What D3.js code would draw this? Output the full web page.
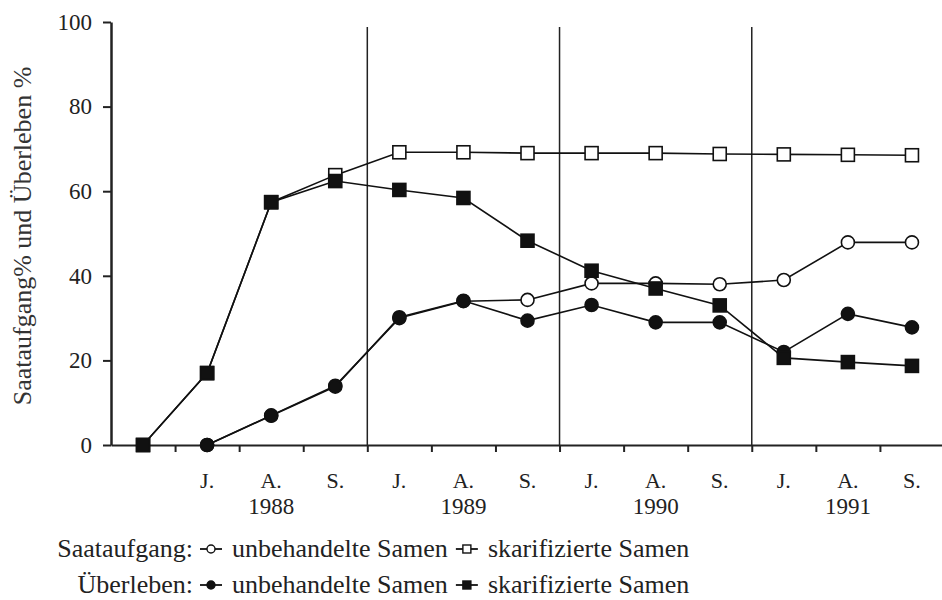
<!DOCTYPE html>
<html>
<head>
<meta charset="utf-8">
<script src="https://cdn.jsdelivr.net/npm/d3@7"></script>
</head>
<body style="margin:0; background:#fff">
<div id="canvas"></div>
<script>
"use strict"

/* Data: categories along the x axis (first slot is the start, no label) */
let monthLabels = ["", "J.", "A.", "S.", "J.", "A.", "S.", "J.", "A.", "S.", "J.", "A.", "S."];
let yearLabels = ["1988", "1989", "1990", "1991"];
let yearSlots = [2, 5, 8, 11];
let yearBreaks = [4, 7, 10];
let yTicks = [0, 20, 40, 60, 80, 100];

// Saataufgang (emergence); unbehandelte starts at slot 1
let emergeUntreated = [null, 0, 7, 14, 30, 34, 34.3, 38.2, 38.2, 38, 39, 47.9, 47.9];
let emergeScarified = [0, 17, 57.4, 63.8, 69.2, 69.2, 69, 69, 69, 68.8, 68.7, 68.6, 68.5];
// Überleben (survival)
let surviveUntreated = [null, 0, 6.9, 13.8, 30.2, 34.1, 29.4, 33.1, 29, 29, 22, 31, 27.8];
let surviveScarified = [0, 17, 57.4, 62.4, 60.3, 58.4, 48.3, 41.2, 37, 33, 20.6, 19.6, 18.7];

/* Drawing dimensions */
let svgWidth = 942;
let svgHeight = 600;
let plotLeft = 111, plotRight = 944, plotTop = 22, plotBottom = 445;
let serif = "'Liberation Serif', 'Times New Roman', serif";
let ink = "#222";

let svg = d3.select("#canvas")
    .append("svg")
    .attr("width", svgWidth)
    .attr("height", svgHeight);

/* Scales */
let xBand = d3.scaleBand()
    .domain(d3.range(monthLabels.length))
    .range([plotLeft, plotRight]);

let xEdge = d3.scaleLinear()
    .domain([0, monthLabels.length])
    .range([plotLeft, plotRight]);

let yScale = d3.scaleLinear()
    .domain([0, 100])
    .range([plotBottom, plotTop]);

function cx(i) {
    return xBand(i) + xBand.bandwidth() / 2;
}

/* Year separator lines */
svg.selectAll("line.sep")
    .data(yearBreaks)
    .join("line")
    .attr("class", "sep")
    .attr("x1", d => xEdge(d))
    .attr("x2", d => xEdge(d))
    .attr("y1", 27)
    .attr("y2", plotBottom)
    .attr("stroke", ink)
    .attr("stroke-width", 1.5);

/* X axis: ticks on slot boundaries */
let xAxis = svg.append("g")
    .attr("transform", "translate(0," + plotBottom + ")")
    .call(d3.axisBottom(xEdge)
        .tickValues(d3.range(1, monthLabels.length))
        .tickFormat("")
        .tickSizeInner(7)
        .tickSizeOuter(0));
xAxis.select(".domain").attr("stroke", ink).attr("stroke-width", 2.2);
xAxis.selectAll(".tick line").attr("stroke", ink).attr("stroke-width", 2);

/* Y axis */
let yAxis = svg.append("g")
    .attr("transform", "translate(" + plotLeft + ",0)")
    .call(d3.axisLeft(yScale)
        .tickValues(yTicks)
        .tickSizeInner(8)
        .tickSizeOuter(0)
        .tickPadding(11));
yAxis.select(".domain").attr("stroke", ink).attr("stroke-width", 2.5);
yAxis.selectAll(".tick line").attr("stroke", ink).attr("stroke-width", 2);
yAxis.selectAll(".tick text")
    .style("font-family", serif)
    .style("font-size", "23px")
    .attr("fill", ink);

/* Month and year labels */
svg.selectAll("text.month")
    .data(monthLabels)
    .join("text")
    .attr("class", "month")
    .attr("x", (d, i) => cx(i))
    .attr("y", 488)
    .attr("text-anchor", "middle")
    .style("font-family", serif)
    .style("font-size", "22px")
    .attr("fill", ink)
    .text(d => d);

svg.selectAll("text.year")
    .data(yearLabels)
    .join("text")
    .attr("class", "year")
    .attr("x", (d, i) => cx(yearSlots[i]))
    .attr("y", 514)
    .attr("text-anchor", "middle")
    .style("font-family", serif)
    .style("font-size", "23px")
    .attr("fill", ink)
    .text(d => d);

/* Y axis title */
svg.append("text")
    .attr("transform", "translate(31,236) rotate(-90)")
    .attr("text-anchor", "middle")
    .style("font-family", serif)
    .style("font-size", "26px")
    .attr("fill", "#333")
    .text("Saataufgang% und Überleben %");

/* Series, drawn open first so the filled markers sit on top */
let series = [
    { values: emergeScarified, shape: "square", filled: false },
    { values: emergeUntreated, shape: "circle", filled: false },
    { values: surviveUntreated, shape: "circle", filled: true },
    { values: surviveScarified, shape: "square", filled: true }
];

let line = d3.line()
    .x(d => cx(d.i))
    .y(d => yScale(d.v));

series.forEach(function (s) {
    let pts = s.values.map((v, i) => ({ i: i, v: v })).filter(d => d.v !== null);
    let g = svg.append("g");
    g.append("path")
        .datum(pts)
        .attr("d", line)
        .attr("fill", "none")
        .attr("stroke", "#111")
        .attr("stroke-width", 1.6);
    if (s.shape === "circle") {
        g.selectAll("circle")
            .data(pts)
            .join("circle")
            .attr("cx", d => cx(d.i))
            .attr("cy", d => yScale(d.v))
            .attr("r", 6.5)
            .attr("fill", s.filled ? "#111" : "#fff")
            .attr("stroke", "#111")
            .attr("stroke-width", 1.6);
    } else {
        g.selectAll("rect")
            .data(pts)
            .join("rect")
            .attr("x", d => cx(d.i) - 6.5)
            .attr("y", d => yScale(d.v) - 6.5)
            .attr("width", 13)
            .attr("height", 13)
            .attr("fill", s.filled ? "#111" : "#fff")
            .attr("stroke", "#111")
            .attr("stroke-width", 1.6);
    }
});

/* Legend */
let legendRows = [
    { title: "Saataufgang:", filled: false, y: 557 },
    { title: "Überleben:", filled: true, y: 593 }
];
let legendNames = ["unbehandelte Samen", "skarifizierte Samen"];
let legendShapes = ["circle", "square"];

legendRows.forEach(function (row) {
    let g = svg.append("g");
    g.append("text")
        .attr("x", 193)
        .attr("y", row.y)
        .attr("text-anchor", "end")
        .style("font-family", serif)
        .style("font-size", "26px")
        .attr("fill", ink)
        .text(row.title);
    let x = 200;
    legendNames.forEach(function (name, k) {
        let my = row.y - 8;
        g.append("line")
            .attr("x1", x).attr("x2", x + 22)
            .attr("y1", my).attr("y2", my)
            .attr("stroke", "#111").attr("stroke-width", 1.8);
        if (legendShapes[k] === "circle") {
            g.append("circle")
                .attr("cx", x + 11).attr("cy", my).attr("r", 4)
                .attr("fill", row.filled ? "#111" : "#fff")
                .attr("stroke", "#111").attr("stroke-width", 1.4);
        } else {
            g.append("rect")
                .attr("x", x + 7).attr("y", my - 4)
                .attr("width", 8).attr("height", 8)
                .attr("fill", row.filled ? "#111" : "#fff")
                .attr("stroke", "#111").attr("stroke-width", 1.4);
        }
        let t = g.append("text")
            .attr("x", x + 32)
            .attr("y", row.y)
            .style("font-family", serif)
            .style("font-size", "26px")
            .attr("fill", ink)
            .text(name);
        x = x + 32 + t.node().getComputedTextLength() + 8;
    });
});
</script>
</body>
</html>
